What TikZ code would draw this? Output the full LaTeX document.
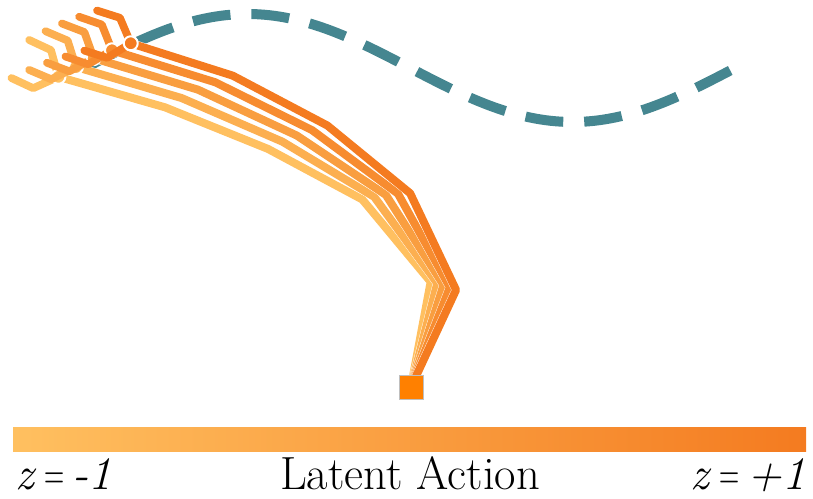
\documentclass[tikz,border=0pt]{standalone}
\usepackage{tikz}

\definecolor{armlo}{RGB}{255,192,96}
\definecolor{armhi}{RGB}{244,123,32}
\definecolor{basecol}{RGB}{255,128,0}
\definecolor{pathcol}{RGB}{69,134,144}

\newcommand{\narroweq}{\,\scalebox{0.6}[1]{=}\,}

\tikzset{
  arm/.style = {line width=0.16cm, line join=round, line cap=round,
    preaction={draw=white, line width=0.175cm}},
  finger/.style = {line width=0.155cm, line join=round, line cap=round},
  gripper/.pic = {
    \draw[finger] (42,21) -- (18,21) -- (0,0) -- (18,-21) -- (42,-21);
    \fill[draw=white, line width=0.04cm] (0,0) circle (7);
  },
  label/.style = {inner sep=0, font=\fontsize{26.5}{30}\selectfont}
}

\begin{document}
\begin{tikzpicture}[x=0.02cm, y=0.02cm]
\useasboundingbox (0,0) rectangle (813,498);

% the path to follow
\draw [pathcol, line width=0.2cm, dash pattern=on 0.76cm off 0.42cm]
  (85,430) sin (247.5,484) cos (410,430) sin (572.5,376) cos (735,430);

\coordinate (root) at (411,111);

% arm poses, z = -1 up to z = +1
\draw [arm, armlo] (root) -- ++(79.4:107) -- ++(129.7:107) -- ++(151.8:107) -- ++(158.0:111) -- ++(164.0:111) coordinate (w1);
\path (w1) pic [armlo, rotate=155] {gripper};
\draw [arm, armhi!25!armlo] (root) -- ++(75.8:107) -- ++(126.1:107) -- ++(149.0:107) -- ++(156.6:110) -- ++(163.6:110) coordinate (w2);
\path (w2) pic [armhi!25!armlo, rotate=157] {gripper};
\draw [arm, armhi!50!armlo] (root) -- ++(72.3:107) -- ++(122.6:107) -- ++(146.3:107) -- ++(155.1:109) -- ++(163.2:109) coordinate (w3);
\path (w3) pic [armhi!50!armlo, rotate=159] {gripper};
\draw [arm, armhi!75!armlo] (root) -- ++(68.7:107) -- ++(119.0:107) -- ++(143.5:107) -- ++(153.7:108) -- ++(162.8:108) coordinate (w4);
\path (w4) pic [armhi!75!armlo, rotate=161] {gripper};
\draw [arm, armhi] (root) -- ++(65.1:107) -- ++(115.4:107) -- ++(140.7:107) -- ++(152.2:107) -- ++(162.4:107) coordinate (w5);
\path (w5) pic [armhi, rotate=162.4] {gripper};

\node (base) at (root) [draw=gray!50, line width=0.3pt, fill=basecol, minimum size=0.48cm, inner sep=0] {};

% colour scale
\shade [left color=armlo, right color=armhi] (13,47) rectangle (806,71);
\node (zlo) at (15,9) [label, anchor=base west] {\textit{z}\narroweq\textit{-1}};
\node (title) at (410,9) [label, anchor=base] {Latent Action};
\node (zhi) at (806,9) [label, anchor=base east] {\textit{z}\narroweq\textit{+1}};

\end{tikzpicture}
\end{document}
